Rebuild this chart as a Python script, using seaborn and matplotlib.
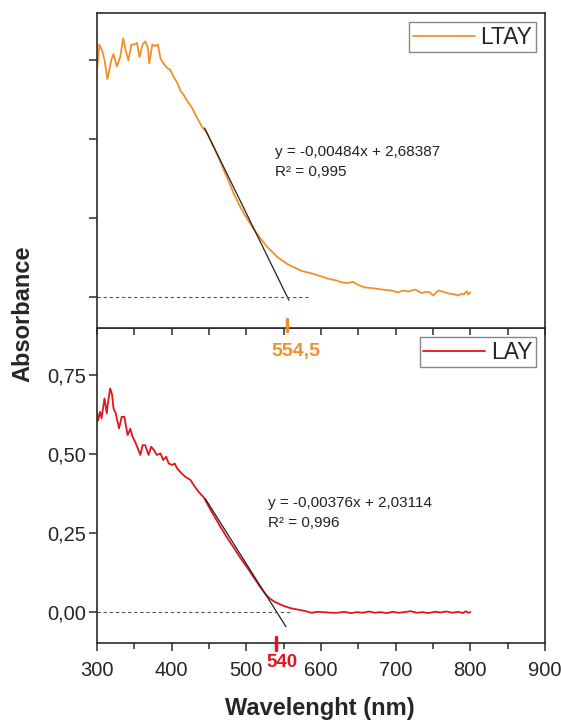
import matplotlib
import matplotlib.pyplot as plt
import matplotlib.transforms as mtransforms
import pandas as pd
import seaborn as sns
from matplotlib.ticker import MultipleLocator

# LTAY spectrum (top panel)
ltay_nm = [300, 303, 307, 310, 314, 319, 322, 326.5, 331, 335, 338.5, 342, 346, 350,
           353.5, 357, 361, 364.5, 368, 370, 374, 378, 381.5, 385, 389, 394, 398, 403,
           407, 412, 416, 421, 427, 434, 441, 447, 456, 463, 470, 477, 483, 490, 497,
           506, 517, 528, 542, 555, 573, 591, 609, 622, 627, 635, 643, 650, 658, 667,
           676, 685, 694, 703, 710, 717, 726, 735, 741, 746, 750, 757, 762, 766, 771,
           775, 780, 784, 788, 791, 795, 797, 800]
ltay_abs = [0.72, 0.80, 0.78, 0.75, 0.69, 0.75, 0.77, 0.73, 0.76, 0.82, 0.78, 0.75, 0.80,
            0.80, 0.805, 0.76, 0.80, 0.81, 0.79, 0.74, 0.80, 0.795, 0.80, 0.755, 0.74,
            0.725, 0.72, 0.695, 0.68, 0.652, 0.64, 0.62, 0.60, 0.567, 0.537, 0.52, 0.475,
            0.44, 0.40, 0.362, 0.327, 0.293, 0.262, 0.228, 0.19, 0.157, 0.124, 0.103,
            0.082, 0.071, 0.057, 0.05, 0.045, 0.043, 0.046, 0.037, 0.029, 0.027, 0.024,
            0.021, 0.019, 0.013, 0.019, 0.016, 0.022, 0.011, 0.015, 0.013, 0.003, 0.019,
            0.016, 0.013, 0.010, 0.008, 0.006, 0.003, 0.009, 0.006, 0.017, 0.006, 0.013]

# LAY spectrum (bottom panel)
lay_nm = [300, 301, 304, 306, 310, 313, 314.5, 317.5, 320, 322, 325, 329.5, 333, 336.5,
          341, 344.5, 347.5, 351, 354.5, 358, 361, 364.5, 369, 372.5, 376, 380, 385,
          388.5, 392.5, 396, 400.5, 404, 407, 413, 418, 425, 431, 436, 443, 452, 465,
          474, 483, 492, 501, 508, 515, 521, 526, 531, 537, 544, 551, 560, 569, 578,
          587, 595, 604, 613, 622, 631, 640, 648, 656, 664, 672, 680, 688, 696, 704,
          712, 720, 728, 736, 744, 752, 760, 768, 776, 784, 790, 794, 797, 800]
lay_abs = [0.629, 0.605, 0.634, 0.613, 0.676, 0.629, 0.66, 0.708, 0.69, 0.645, 0.629,
           0.581, 0.618, 0.618, 0.56, 0.58, 0.555, 0.539, 0.518, 0.497, 0.528, 0.528,
           0.497, 0.523, 0.513, 0.497, 0.502, 0.481, 0.491, 0.47, 0.465, 0.47, 0.455,
           0.439, 0.428, 0.418, 0.396, 0.38, 0.362, 0.323, 0.27, 0.235, 0.203, 0.17,
           0.14, 0.115, 0.09, 0.07, 0.054, 0.042, 0.032, 0.024, 0.017, 0.01, 0.006,
           0.002, -0.004, -0.001, -0.002, -0.004, -0.004, -0.001, -0.005, -0.002,
           -0.004, 0.0, -0.004, -0.002, -0.005, -0.001, -0.004, -0.002, 0.001, -0.004,
           -0.002, -0.005, -0.001, -0.003, 0.0, -0.004, -0.001, -0.005, 0.001, -0.004,
           -0.002]

# linear fits: slope, intercept, drawn range, baseline end, band-gap edge
ltay_fit = (-0.00484, 2.68387)
lay_fit = (-0.00376, 2.03114)
ltay_fit_range = [444, 557]
lay_fit_range = [445, 553]
ltay_base_end = 583
lay_base_end = 560
ltay_edge = 554.5
lay_edge = 540

ORANGE = "#F0902A"
RED = "#E2141C"
FRAME = "#2b2b2b"

sns.set_style("ticks")
plt.rcParams["font.family"] = ["Liberation Sans", "DejaVu Sans"]
plt.rcParams["axes.edgecolor"] = FRAME
plt.rcParams["axes.linewidth"] = 1.2

fig, (ax1, ax2) = plt.subplots(2, 1, figsize=(5.61, 7.2), dpi=100, sharex=True)
fig.subplots_adjust(left=0.173, right=0.9715, top=1 - 13 / 720, bottom=1 - 643 / 720,
                    hspace=0)
# upper panel drawn over the lower one so its edge marker/label stay visible
ax1.set_zorder(3)

panels = [
    (ax1, ltay_nm, ltay_abs, ORANGE, "LTAY", ltay_fit, ltay_fit_range, ltay_base_end,
     ltay_edge, "554,5", "y = -0,00484x + 2,68387\nR² = 0,995", (539, 0.527)),
    (ax2, lay_nm, lay_abs, RED, "LAY", lay_fit, lay_fit_range, lay_base_end,
     lay_edge, "540", "y = -0,00376x + 2,03114\nR² = 0,996", (529, 0.413)),
]

for ax, nm, ab, color, name, fit, frange, base_end, edge, edge_lbl, eq, eqpos in panels:
    df = pd.DataFrame({"nm": nm, "abs": ab})
    sns.lineplot(data=df, x="nm", y="abs", ax=ax, color=color, lw=1.3, label=name)

    fit_df = pd.DataFrame({"nm": frange})
    fit_df["abs"] = fit[0] * fit_df["nm"] + fit[1]
    sns.lineplot(data=fit_df, x="nm", y="abs", ax=ax, color="#222222", lw=0.9,
                 legend=False)

    ax.plot([300, base_end], [0, 0], ls=(0, (3, 2.5)), color="#555555", lw=0.8)

    trans = mtransforms.blended_transform_factory(ax.transData, ax.transAxes)
    if ax is ax1:
        ax.plot([edge, edge], [-0.01, 0.029], color=color, lw=2.5, transform=trans,
                clip_on=False, zorder=5)
        ax.annotate(edge_lbl, xy=(edge, -0.076), xycoords=trans, xytext=(6, 0),
                    textcoords="offset points", ha="center", va="center",
                    color=color, fontsize=14, fontweight="bold", annotation_clip=False)
    else:
        ax.plot([edge, edge], [-0.022, 0.019], color=color, lw=2.5, transform=trans,
                clip_on=False, zorder=5)
        ax.annotate(edge_lbl, xy=(edge, -0.063), xycoords=trans, xytext=(4, 0),
                    textcoords="offset points", ha="center", va="center",
                    color=color, fontsize=13.5, fontweight="bold",
                    annotation_clip=False)

    ax.text(eqpos[0], eqpos[1], eq, transform=trans, ha="left", va="center",
            fontsize=11, color="#222222", linespacing=1.5)

    leg = ax.legend(loc="upper right", fontsize=16.5, frameon=True, fancybox=False,
                    edgecolor="#888888", framealpha=1, handlelength=2.7,
                    handletextpad=0.25, borderpad=0.15, borderaxespad=0.4)
    leg.get_frame().set_linewidth(1.0)

    ax.set_xlim(300, 900)
    ax.set_ylim(-0.1, 0.9)
    ax.yaxis.set_major_locator(MultipleLocator(0.25))
    ax.set_xlabel("")
    ax.set_ylabel("")
    for s in ax.spines.values():
        s.set_visible(True)

ax1.tick_params(axis="y", direction="out", length=6, width=1.1, labelleft=False,
                color=FRAME)
ax1.tick_params(axis="x", which="both", bottom=False, top=False, labelbottom=False)

ax2.xaxis.set_major_locator(MultipleLocator(100))
ax2.xaxis.set_minor_locator(MultipleLocator(50))
ax2.tick_params(axis="y", direction="out", length=6, width=1.1, labelsize=14.5, pad=2,
                color=FRAME)
ax2.tick_params(axis="x", which="major", direction="out", length=6, width=1.1,
                labelsize=14.5, pad=7, color=FRAME, top=True)
ax2.tick_params(axis="x", which="minor", direction="out", length=4, width=1.1,
                color=FRAME, top=True)
ax2.yaxis.set_major_formatter(matplotlib.ticker.FuncFormatter(
    lambda v, p: f"{v:.2f}".replace(".", ",")))
# top ticks of the lower panel point inward
for t in ax2.xaxis.get_major_ticks() + ax2.xaxis.get_minor_ticks():
    t.tick2line.set_marker(matplotlib.lines.TICKDOWN)
    t.tick2line.set_markersize(5)

fig.text(23 / 561, 1 - 314 / 720, "Absorbance", rotation=90, ha="center", va="center",
         fontsize=17, fontweight="bold")
fig.text(320 / 561, 1 - 709 / 720, "Wavelenght (nm)", ha="center", va="center",
         fontsize=17, fontweight="bold")

plt.savefig("out.png", dpi=100)
